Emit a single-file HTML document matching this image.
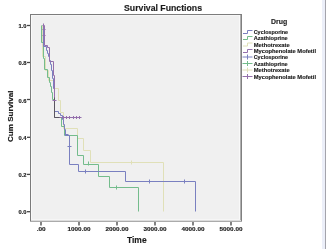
<!DOCTYPE html>
<html><head><meta charset="utf-8">
<style>
html,body{margin:0;padding:0;background:#fff;width:326px;height:249px;overflow:hidden}
svg{display:block}
text{font-family:"Liberation Sans",sans-serif;font-weight:bold;fill:#1c1c1c;stroke:#1c1c1c;stroke-width:0.15;filter:grayscale(1)}
</style></head>
<body>
<svg width="326" height="249" viewBox="0 0 326 249">
<!-- right window edge -->
<rect x="322" y="0" width="3" height="249" fill="#eceff9"/>
<rect x="325" y="0" width="1" height="249" fill="#a4a4ac"/>

<!-- title -->
<text x="124" y="11.4" font-size="8.9" textLength="78" lengthAdjust="spacingAndGlyphs">Survival Functions</text>

<!-- plot area -->
<rect x="30" y="14" width="212" height="208" fill="#f0f0f0"/>
<rect x="31" y="15" width="1" height="205" fill="#f9f9f9"/>
<rect x="31" y="15" width="209" height="1" fill="#f6f6f6"/>
<rect x="239" y="15" width="1" height="205" fill="#f9f9f9"/>
<rect x="31" y="219" width="209" height="1" fill="#f6f6f6"/>
<rect x="30" y="14" width="1" height="208" fill="#7a7a7a"/>
<rect x="30" y="14" width="212" height="1" fill="#7c7c7c"/>
<rect x="240" y="15" width="1" height="206" fill="#b0b0b0"/>
<rect x="241" y="14" width="1" height="208" fill="#808080"/>
<rect x="31" y="220" width="210" height="1" fill="#dcdcdc"/>
<rect x="30" y="221" width="212" height="1" fill="#ababab"/>

<!-- y ticks -->
<g stroke="#454545" stroke-width="1.3">
<line x1="27" y1="25.5" x2="30" y2="25.5"/>
<line x1="27" y1="62.5" x2="30" y2="62.5"/>
<line x1="27" y1="99.5" x2="30" y2="99.5"/>
<line x1="27" y1="137.3" x2="30" y2="137.3"/>
<line x1="27" y1="174.4" x2="30" y2="174.4"/>
<line x1="27" y1="211.7" x2="30" y2="211.7"/>
</g>
<g font-size="6.1" style="fill:#4a4a56;stroke:none">
<text x="18.4" y="27.5" textLength="8.1" lengthAdjust="spacingAndGlyphs">1.0</text>
<text x="18.4" y="65.1" textLength="8.1" lengthAdjust="spacingAndGlyphs">0.8</text>
<text x="18.4" y="102.7" textLength="8.1" lengthAdjust="spacingAndGlyphs">0.6</text>
<text x="18.4" y="140.1" textLength="8.1" lengthAdjust="spacingAndGlyphs">0.4</text>
<text x="18.4" y="177.1" textLength="8.1" lengthAdjust="spacingAndGlyphs">0.2</text>
<text x="18.4" y="214.4" textLength="8.1" lengthAdjust="spacingAndGlyphs">0.0</text>
</g>

<!-- x ticks -->
<g stroke="#404040" stroke-width="1.3">
<line x1="41" y1="222" x2="41" y2="225.5"/>
<line x1="79" y1="222" x2="79" y2="225.5"/>
<line x1="117" y1="222" x2="117" y2="225.5"/>
<line x1="155" y1="222" x2="155" y2="225.5"/>
<line x1="193" y1="222" x2="193" y2="225.5"/>
<line x1="231" y1="222" x2="231" y2="225.5"/>
</g>
<g font-size="6" text-anchor="middle" style="fill:#3a3a48;stroke:none">
<text x="41.2" y="231" textLength="9" lengthAdjust="spacingAndGlyphs">.00</text>
<text x="79" y="231" textLength="23" lengthAdjust="spacingAndGlyphs">1000.00</text>
<text x="117" y="231" textLength="23" lengthAdjust="spacingAndGlyphs">2000.00</text>
<text x="155" y="231" textLength="23" lengthAdjust="spacingAndGlyphs">3000.00</text>
<text x="193" y="231" textLength="23" lengthAdjust="spacingAndGlyphs">4000.00</text>
<text x="231" y="231" textLength="23" lengthAdjust="spacingAndGlyphs">5000.00</text>
</g>

<!-- axis titles -->
<text x="127" y="243" font-size="8.4" textLength="19.6" lengthAdjust="spacingAndGlyphs">Time</text>
<text transform="translate(12.8,142) rotate(-90)" x="0" y="0" font-size="7.7" textLength="51.5" lengthAdjust="spacingAndGlyphs">Cum Survival</text>

<!-- curves -->
<g fill="none" stroke-width="1">
<!-- Methotrexate beige -->
<path stroke="#e0e0b8" d="M41.5,25.5 H42.5 V56.5 H45.5 V70.5 H48.5 V80.5 H53.5 V88.5 H58.5 V100.5 H60.5 V112.5 H63.5 V128.5 H77.5 V138.5 H83.5 V150.5 H90.5 V162.5 H163.5 V211.5"/>
<!-- Azathioprine green -->
<path stroke="#74bc8c" d="M41.5,25.5 H41.5 V42.5 H43.5 V58.5 H44.5 V69.5 H47.5 V77.5 H49.5 V82.5 H50.5 V86.5 H51.5 V92.5 H52.5 V99.5 H54.5 V117.5 H61.5 V126.5 H64.5 V135.5 H77.5 V155.5 H83.5 V164.5 H98.5 V176.5 H109.5 V187.5 H138.5 V211.5"/>
<!-- Cyclosporine blue -->
<path stroke="#7a80c0" d="M42.5,25.5 H43.5 V46.5 H46.5 V50.5 H47.5 V53.5 H48.5 V56.5 H49.5 V60.5 H50.5 V64.5 H51.5 V70.5 H52.5 V78.5 H53.5 V88.5 H54.5 V111.5 H58.5 V113.5 H60.5 V115.5 H62.5 V119.5 H63.5 V124.5 H64.5 V129.5 H65.5 V135.5 H69.5 V164.5 H78.5 V171.5 H125.5 V181.5 H195.5 V211.5"/>
<!-- Mycophenolate purple -->
<path stroke="#9470ac" d="M43.5,25.5 H44.5 V45.5 H47.5 V47.5 H49.5 V61.5 H53.5 V75.5 H54.5 V117.5 H81.5"/>
</g>
<path stroke="#5a5660" stroke-width="1" fill="none" d="M54.5,97.5 V117.5 H59.5"/>
<!-- censor marks -->
<g stroke-width="1">
<g stroke="#9470ac">
<line x1="43.5" y1="23.5" x2="43.5" y2="27.5"/>
<line x1="42.5" y1="29.5" x2="45.5" y2="29.5"/>
<line x1="42.5" y1="35.5" x2="45.5" y2="35.5"/>
<line x1="52.5" y1="100.5" x2="56.5" y2="100.5"/>
<line x1="63.5" y1="116" x2="63.5" y2="119"/>
<line x1="66.5" y1="116" x2="66.5" y2="119"/>
<line x1="69.5" y1="116" x2="69.5" y2="119"/>
<line x1="73.5" y1="116" x2="73.5" y2="119"/>
<line x1="76.5" y1="116" x2="76.5" y2="119"/>
<line x1="79.5" y1="116" x2="79.5" y2="119"/>
</g>
<g stroke="#7a80c0">
<line x1="64.5" y1="134.5" x2="68.5" y2="134.5"/>
<line x1="67.5" y1="146.5" x2="71.5" y2="146.5"/>
<line x1="85.5" y1="169.5" x2="85.5" y2="173.5"/>
<line x1="149.5" y1="179.5" x2="149.5" y2="183.5"/>
<line x1="184.5" y1="179.5" x2="184.5" y2="183.5"/>
</g>
<g stroke="#74bc8c">
<line x1="88.5" y1="161.5" x2="88.5" y2="165.5"/>
<line x1="116.5" y1="185.5" x2="116.5" y2="189.5"/>
</g>
<g stroke="#e0e0b8">
<line x1="131.5" y1="160.5" x2="131.5" y2="164.5"/>
</g>
</g>

<!-- legend -->
<text x="271" y="23.8" font-size="7.6" textLength="16.2" lengthAdjust="spacingAndGlyphs">Drug</text>
<g fill="none" stroke-width="1">
<path stroke="#7a80c0" d="M243,33.5 H247.5 V30.5 H252.5"/>
<path stroke="#74bc8c" d="M243,39.5 H247.5 V36.5 H252.5"/>
<path stroke="#e0e0b8" d="M243,46 H247.5 V43 H252.5"/>
<path stroke="#9470ac" d="M243,52.5 H247.5 V49.5 H252.5"/>
<path stroke="#7a80c0" d="M242.5,57 H252.5 M247.5,54.5 V59.5"/>
<path stroke="#74bc8c" d="M242.5,63.5 H252.5 M247.5,61 V66"/>
<path stroke="#e0e0b8" d="M242.5,70 H252.5 M247.5,67.5 V72.5"/>
<path stroke="#9470ac" d="M242.5,76.5 H252.5 M247.5,74 V79"/>
</g>
<g font-size="6" style="stroke-width:0">
<text x="253.7" y="33.8" textLength="34.4" lengthAdjust="spacingAndGlyphs">Cyclosporine</text>
<text x="253.7" y="40.3" textLength="34" lengthAdjust="spacingAndGlyphs">Azathioprine</text>
<text x="253.7" y="46.7" textLength="36" lengthAdjust="spacingAndGlyphs">Methotrexate</text>
<text x="253.7" y="53.2" textLength="62.3" lengthAdjust="spacingAndGlyphs">Mycophenolate Mofetil</text>
<text x="253.7" y="59.3" textLength="34.4" lengthAdjust="spacingAndGlyphs">Cyclosporine</text>
<text x="253.7" y="65.8" textLength="34" lengthAdjust="spacingAndGlyphs">Azathioprine</text>
<text x="253.7" y="72.3" textLength="36" lengthAdjust="spacingAndGlyphs">Methotrexate</text>
<text x="253.7" y="78.8" textLength="62.3" lengthAdjust="spacingAndGlyphs">Mycophenolate Mofetil</text>
</g>
</svg>
</body></html>
